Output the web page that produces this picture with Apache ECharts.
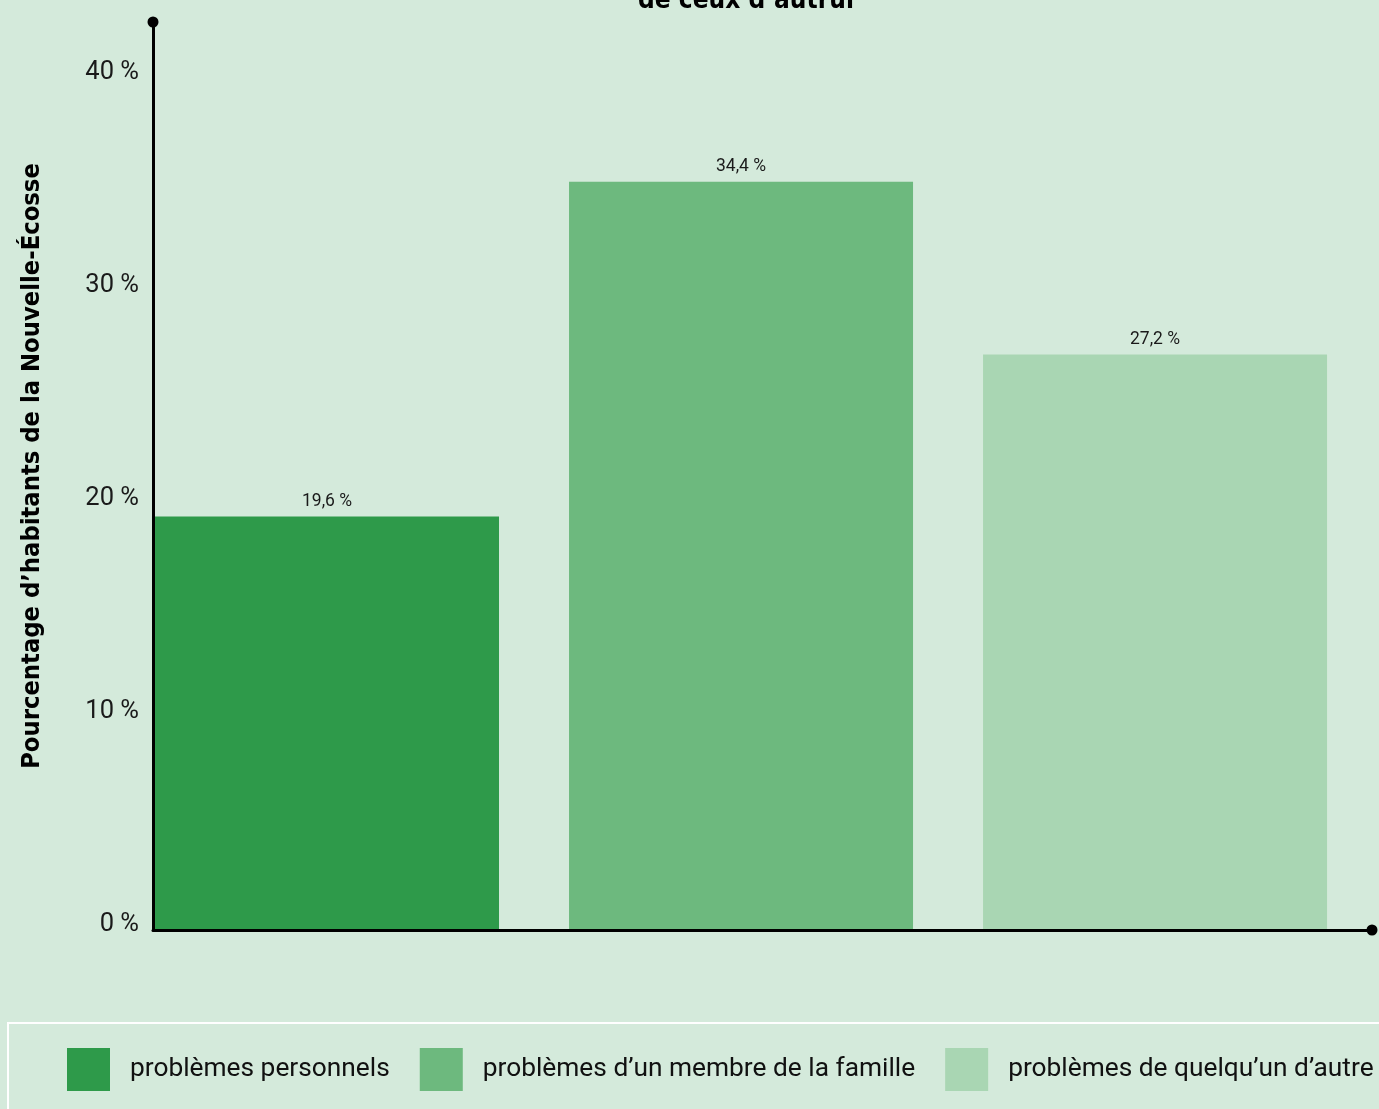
<!DOCTYPE html>
<html>
<head>
<meta charset="utf-8">
<script src="https://cdn.jsdelivr.net/npm/echarts@6/dist/echarts.min.js"></script>
<style>
html,body{margin:0;padding:0;background:#d4eadb;}
#chart{width:1379px;height:1109px;}
</style>
</head>
<body>
<div id="chart"></div>
<script>
// Data
const categories = ['problèmes personnels', 'problèmes d’un membre de la famille', 'problèmes de quelqu’un d’autre'];
const barValues = [19.4, 35.1, 27.0];          // bar heights as drawn
const valueLabels = ['19,6 %', '34,4 %', '27,2 %']; // printed labels
const colors = ['#2e9a4a', '#6db97e', '#a9d6b3'];
const yTicks = [0, 10, 20, 30, 40];
const titleText = 'de ceux d’autrui';
const yAxisName = 'Pourcentage d’habitants de la Nouvelle-Écosse';

const condensed = '"Liberation Sans Narrow", "DejaVu Sans Condensed", "Arial Narrow", sans-serif';

const chart = echarts.init(document.getElementById('chart'));

const series = categories.map((name, i) => ({
  name: name,
  type: 'bar',
  stack: 'all',
  barWidth: 344,
  itemStyle: { color: colors[i] },
  label: {
    show: true,
    position: 'top',
    distance: 6,
    fontFamily: 'Roboto',
    fontSize: 17.5,
    color: '#1a1a1a',
    formatter: () => valueLabels[i]
  },
  data: [[i, barValues[i]]]
}));

chart.setOption({
  backgroundColor: '#d4eadb',
  animation: false,
  title: {
    text: titleText,
    left: 741,
    textAlign: 'center',
    top: -17,
    textStyle: { fontFamily: condensed, fontWeight: 'bold', fontSize: 26, color: '#000' }
  },
  grid: { left: 153, right: 7, top: 22, bottom: 179, containLabel: false },
  legend: {
    left: 8,
    top: 1023,
    width: 1600,
    padding: [25, 40, 25, 59],
    borderColor: '#ffffff',
    borderWidth: 2,
    itemWidth: 43,
    itemHeight: 43,
    itemGap: 30,
    icon: 'rect',
    textStyle: { fontFamily: 'Roboto', fontSize: 26.3, color: '#111', padding: [0, 0, 0, 15] },
    data: categories
  },
  xAxis: {
    type: 'value',
    min: -0.4203,
    max: 2.524,
    z: 5,
    axisLine: { show: true, lineStyle: { color: '#000', width: 3 }, symbol: ['none', 'circle'], symbolSize: [11, 11] },
    axisTick: { show: false },
    axisLabel: { show: false },
    splitLine: { show: false }
  },
  yAxis: {
    type: 'value',
    min: 0,
    max: 42.6,
    interval: 10,
    z: 5,
    name: yAxisName,
    nameLocation: 'middle',
    nameGap: 108,
    nameTextStyle: { fontFamily: condensed, fontWeight: 'bold', fontSize: 25.3, color: '#000', padding: [0, 0, 0, 20] },
    axisLine: { show: true, onZero: false, lineStyle: { color: '#000', width: 3 }, symbol: ['none', 'circle'], symbolSize: [11, 11] },
    axisTick: { show: false },
    splitLine: { show: false },
    axisLabel: {
      fontFamily: 'Roboto',
      fontSize: 25.5,
      color: '#1a1a1a',
      margin: 14,
      verticalAlign: 'bottom',
      lineHeight: 10,
      formatter: v => (yTicks.indexOf(v) >= 0 ? v + ' %' : '')
    }
  },
  series: series
});
</script>
</body>
</html>
